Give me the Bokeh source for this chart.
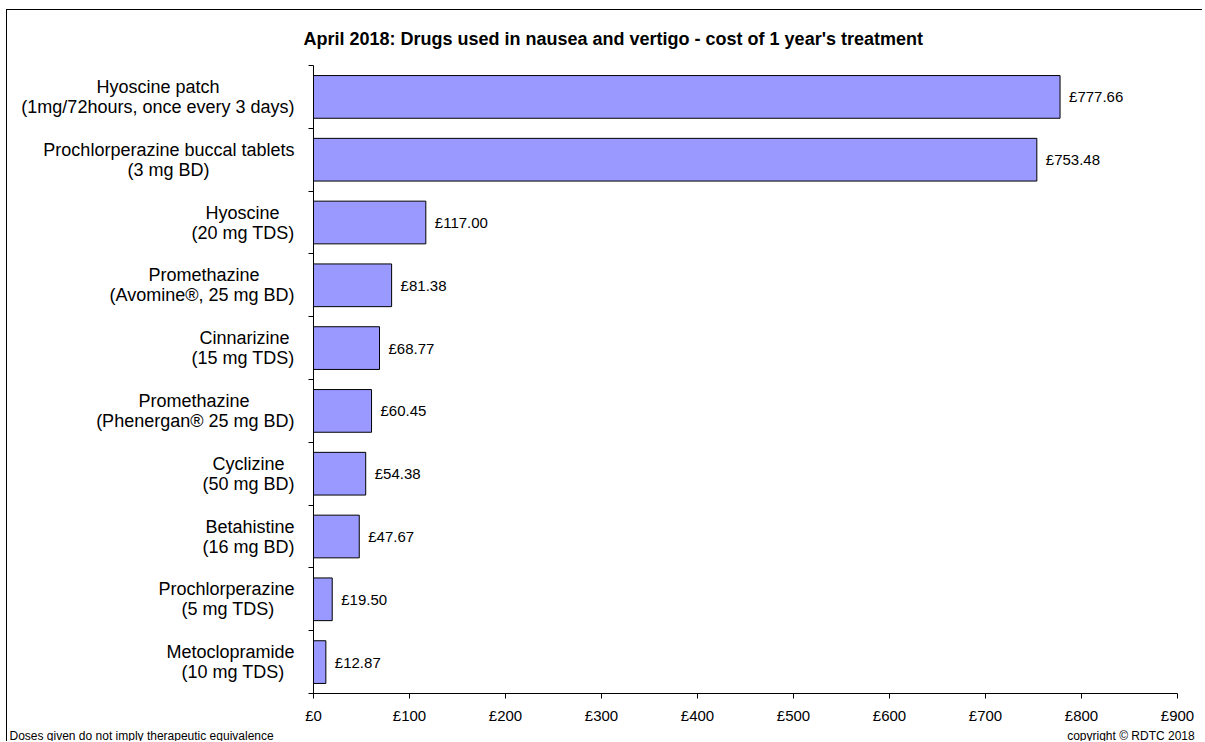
from bokeh.plotting import figure
from bokeh.models import ColumnDataSource, FixedTicker, Range1d, Title, LabelSet
from bokeh.core.properties import value
from bokeh.embed import file_html
from bokeh.resources import INLINE

# ---- data ----
drugs = ["Hyoscine patch", "Prochlorperazine buccal tablets", "Hyoscine", "Promethazine",
         "Cinnarizine", "Promethazine", "Cyclizine", "Betahistine", "Prochlorperazine",
         "Metoclopramide"]
doses = ["(1mg/72hours, once every 3 days)", "(3 mg BD)", "(20 mg TDS)", "(Avomine\u00ae, 25 mg BD)",
         "(15 mg TDS)", "(Phenergan\u00ae 25 mg BD)", "(50 mg BD)", "(16 mg BD)", "(5 mg TDS)",
         "(10 mg TDS)"]
costs = [777.66, 753.48, 117.00, 81.38, 68.77, 60.45, 54.38, 47.67, 19.50, 12.87]
x_ticks = [0, 100, 200, 300, 400, 500, 600, 700, 800, 900]
title_text = "April 2018: Drugs used in nausea and vertigo - cost of 1 year's treatment"
note_text = "Doses given do not imply  therapeutic equivalence"
copyright_text = "copyright \u00a9 RDTC 2018"

FONT = "Liberation Sans"
LABEL_PX = 18
NBSP = "\u00a0"

# approximate Arial / Liberation Sans advance widths (per 1000 em), used to centre
# the two lines of each category label and to space the footer with non-breaking spaces
W = {" ": 278, NBSP: 278, "(": 333, ")": 333, ",": 278, "/": 278, "\u00ae": 737, "\u00a9": 737,
     "A": 667, "B": 667, "C": 722, "D": 722, "H": 722, "M": 833, "P": 667, "R": 722,
     "S": 667, "T": 611}
W.update({d: 556 for d in "0123456789"})
W.update({"a": 556, "b": 556, "c": 500, "d": 556, "e": 556, "f": 278, "g": 556, "h": 556,
          "i": 222, "j": 222, "k": 500, "l": 222, "m": 833, "n": 556, "o": 556, "p": 556,
          "q": 556, "r": 333, "s": 500, "t": 278, "u": 556, "v": 500, "w": 722, "x": 500,
          "y": 500, "z": 500})


def text_w(s):
    return sum(W.get(ch, 556) for ch in s)


def centred(a, b):
    wa, wb = text_w(a), text_w(b)
    pad = int(round(abs(wa - wb) / 2.0 / 278))
    if wa < wb:
        a = a + NBSP * pad
    else:
        b = b + NBSP * pad
    return a + "\n" + b


n = len(drugs)
ypos = [n - i - 0.5 for i in range(n)]
cost_labels = ["\u00a3%.2f" % c for c in costs]

src = ColumnDataSource(dict(y=ypos, cost=costs, lab=cost_labels))

p = figure(width=1196, height=732, output_backend="svg", toolbar_location=None,
           x_range=Range1d(0, 900), y_range=Range1d(0, n),
           min_border_left=306, min_border_right=26, min_border_top=55, min_border_bottom=48)
p.styles = {"margin-left": "6px", "margin-top": "9px",
            "border-left": "1px solid black", "border-top": "1px solid black"}
p.outline_line_color = None
p.xgrid.visible = False
p.ygrid.visible = False

# title (above the plot, positioned relative to the frame)
p.title = Title(text=title_text, align="left", offset=-10, vertical_align="middle",
                standoff=32, text_font=FONT, text_font_size="18px",
                text_font_style="bold", text_color="black")

p.hbar(y="y", right="cost", left=0, height=0.68, source=src,
       fill_color="#9999FF", line_color="black", line_width=1)

p.add_layout(LabelSet(x="cost", y="y", text="lab", source=src, x_offset=9,
                      text_baseline="middle", text_font=value(FONT), text_font_size="15px",
                      text_color="black"))

# x axis
xa = p.xaxis[0]
xa.ticker = FixedTicker(ticks=x_ticks)
xa.major_label_overrides = {t: "\u00a3%d" % t for t in x_ticks}
xa.major_tick_in = 0
xa.major_tick_out = 5
xa.minor_tick_line_color = None
xa.major_label_standoff = 8
xa.major_label_text_font = FONT
xa.major_label_text_font_size = "15px"
xa.major_label_text_color = "black"
xa.axis_line_color = "black"

# y axis: labels at category centres, tick marks at category boundaries
ya = p.yaxis[0]
ya.ticker = FixedTicker(ticks=ypos, minor_ticks=list(range(n + 1)))
ya.major_label_overrides = {y: centred(d, s) for y, d, s in zip(ypos, drugs, doses)}
ya.major_label_text_line_height = 1.0
ya.major_label_standoff = 14
ya.major_label_text_font = FONT
ya.major_label_text_font_size = "%dpx" % LABEL_PX
ya.major_label_text_color = "black"
ya.major_tick_line_color = None
ya.major_tick_in = 0
ya.major_tick_out = 0
ya.minor_tick_in = 0
ya.minor_tick_out = 5
ya.minor_tick_line_color = "black"
ya.axis_line_color = "black"

# footer line: note at the left edge, copyright at the right edge
FOOT_PX = 12
note_left = -304          # px from the frame's left edge
copy_right = 21           # px beyond the frame's right edge
frame_w = 1196 - 306 - 26
gap_px = (frame_w + copy_right - note_left) - (text_w(note_text) + text_w(copyright_text)) * FOOT_PX / 1000.0
footer_text = note_text + NBSP * int(round(gap_px / (278 * FOOT_PX / 1000.0))) + copyright_text
p.add_layout(Title(text=footer_text, align="left", offset=note_left, standoff=0,
                   vertical_align="bottom", text_font=FONT,
                   text_font_size="%dpx" % FOOT_PX, text_font_style="normal",
                   text_color="black"), "below")

open("out.html", "w").write(file_html(p, INLINE))
